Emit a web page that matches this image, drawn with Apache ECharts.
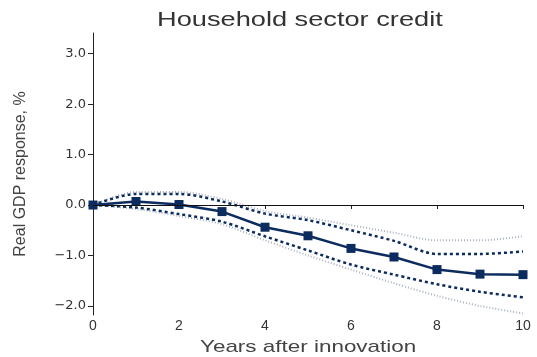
<!DOCTYPE html>
<html>
<head>
<meta charset="utf-8">
<script src="https://cdn.jsdelivr.net/npm/echarts@6/dist/echarts.min.js"></script>
<style>
  html, body { margin: 0; padding: 0; background: #fff; }
  #chart { width: 537px; height: 357px; }
</style>
</head>
<body>
<div id="chart"></div>
<script>
// years after innovation
var years = [0, 1, 2, 3, 4, 5, 6, 7, 8, 9, 10];
// point estimate
var response = [0, 0.07, 0.01, -0.13, -0.44, -0.61, -0.86, -1.03, -1.28, -1.37, -1.38];
// inner band (dashed)
var innerUpper = [0, 0.22, 0.22, 0.07, -0.17, -0.3, -0.5, -0.71, -0.97, -0.97, -0.92];
var innerLower = [0, -0.05, -0.18, -0.33, -0.62, -0.9, -1.18, -1.38, -1.57, -1.72, -1.83];
// outer band (dotted)
var outerUpper = [0, 0.26, 0.26, 0.12, -0.12, -0.25, -0.4, -0.55, -0.7, -0.7, -0.62];
var outerLower = [0, -0.08, -0.22, -0.38, -0.7, -1.0, -1.28, -1.55, -1.8, -2.0, -2.15];
var yTicks = [-2, -1, 0, 1, 2, 3];

function pairs(vals) {
  var out = [];
  for (var i = 0; i < years.length; i++) {
    out.push([years[i], vals[i]]);
  }
  return out;
}

var navy = '#0c2b5e';
var grey = '#a9b2c2';
var font = 'Liberation Sans, Arial, sans-serif';

var chart = echarts.init(document.getElementById('chart'));
chart.setOption({
  animation: false,
  // the source picture is stretched sideways, so the texts are widened a bit
  graphic: [
    {
      type: 'text',
      x: 157,
      y: 10,
      scaleX: 1.36,
      style: {
        text: 'Household sector credit',
        fontFamily: font,
        fontSize: 20,
        fill: '#333'
      }
    },
    {
      type: 'text',
      x: 200,
      y: 339,
      scaleX: 1.32,
      style: {
        text: 'Years after innovation',
        fontFamily: font,
        fontSize: 17,
        fill: '#444'
      }
    }
  ],
  grid: { left: 93, right: 14, top: 33, bottom: 42 },
  xAxis: {
    type: 'value',
    min: 0,
    max: 10,
    interval: 2,
    axisLine: { lineStyle: { color: '#222', width: 1 } },
    axisTick: { show: true, length: 4, lineStyle: { color: '#222' } },
    axisLabel: { fontFamily: font, fontSize: 14, color: '#333', margin: 4 },
    splitLine: { show: false }
  },
  yAxis: {
    type: 'value',
    min: -2.18,
    max: 3.41,
    name: 'Real GDP response, %',
    nameLocation: 'middle',
    nameGap: 64,
    nameTextStyle: { fontFamily: font, fontSize: 16, color: '#444' },
    axisLine: { show: true, lineStyle: { color: '#222', width: 1 } },
    axisTick: { show: true, length: 5, lineStyle: { color: '#222' }, customValues: yTicks },
    axisLabel: {
      fontFamily: 'DejaVu Sans, sans-serif',
      fontSize: 13,
      color: '#333',
      margin: 7,
      customValues: yTicks,
      formatter: function (v) {
        return v.toFixed(1).replace('-', '\u2212');
      }
    },
    splitLine: { show: false }
  },
  series: [
    {
      type: 'line',
      data: pairs(outerUpper),
      smooth: 0.3,
      symbol: 'none',
      lineStyle: { color: grey, width: 2, type: [1, 2] },
      z: 1
    },
    {
      type: 'line',
      data: pairs(outerLower),
      smooth: 0.3,
      symbol: 'none',
      lineStyle: { color: grey, width: 2, type: [1, 2] },
      z: 1
    },
    {
      type: 'line',
      data: pairs(innerUpper),
      smooth: 0.3,
      symbol: 'none',
      lineStyle: { color: navy, width: 2.5, type: [3, 3] },
      z: 2
    },
    {
      type: 'line',
      data: pairs(innerLower),
      smooth: 0.3,
      symbol: 'none',
      lineStyle: { color: navy, width: 2.5, type: [3, 3] },
      z: 2
    },
    {
      type: 'line',
      data: pairs(response),
      symbol: 'rect',
      symbolSize: 9,
      itemStyle: { color: navy },
      lineStyle: { color: navy, width: 2.5 },
      z: 3,
      markLine: {
        silent: true,
        symbol: 'none',
        label: { show: false },
        lineStyle: { color: '#111', width: 1, type: 'solid' },
        data: [{ yAxis: 0 }]
      }
    }
  ]
});
</script>
</body>
</html>
